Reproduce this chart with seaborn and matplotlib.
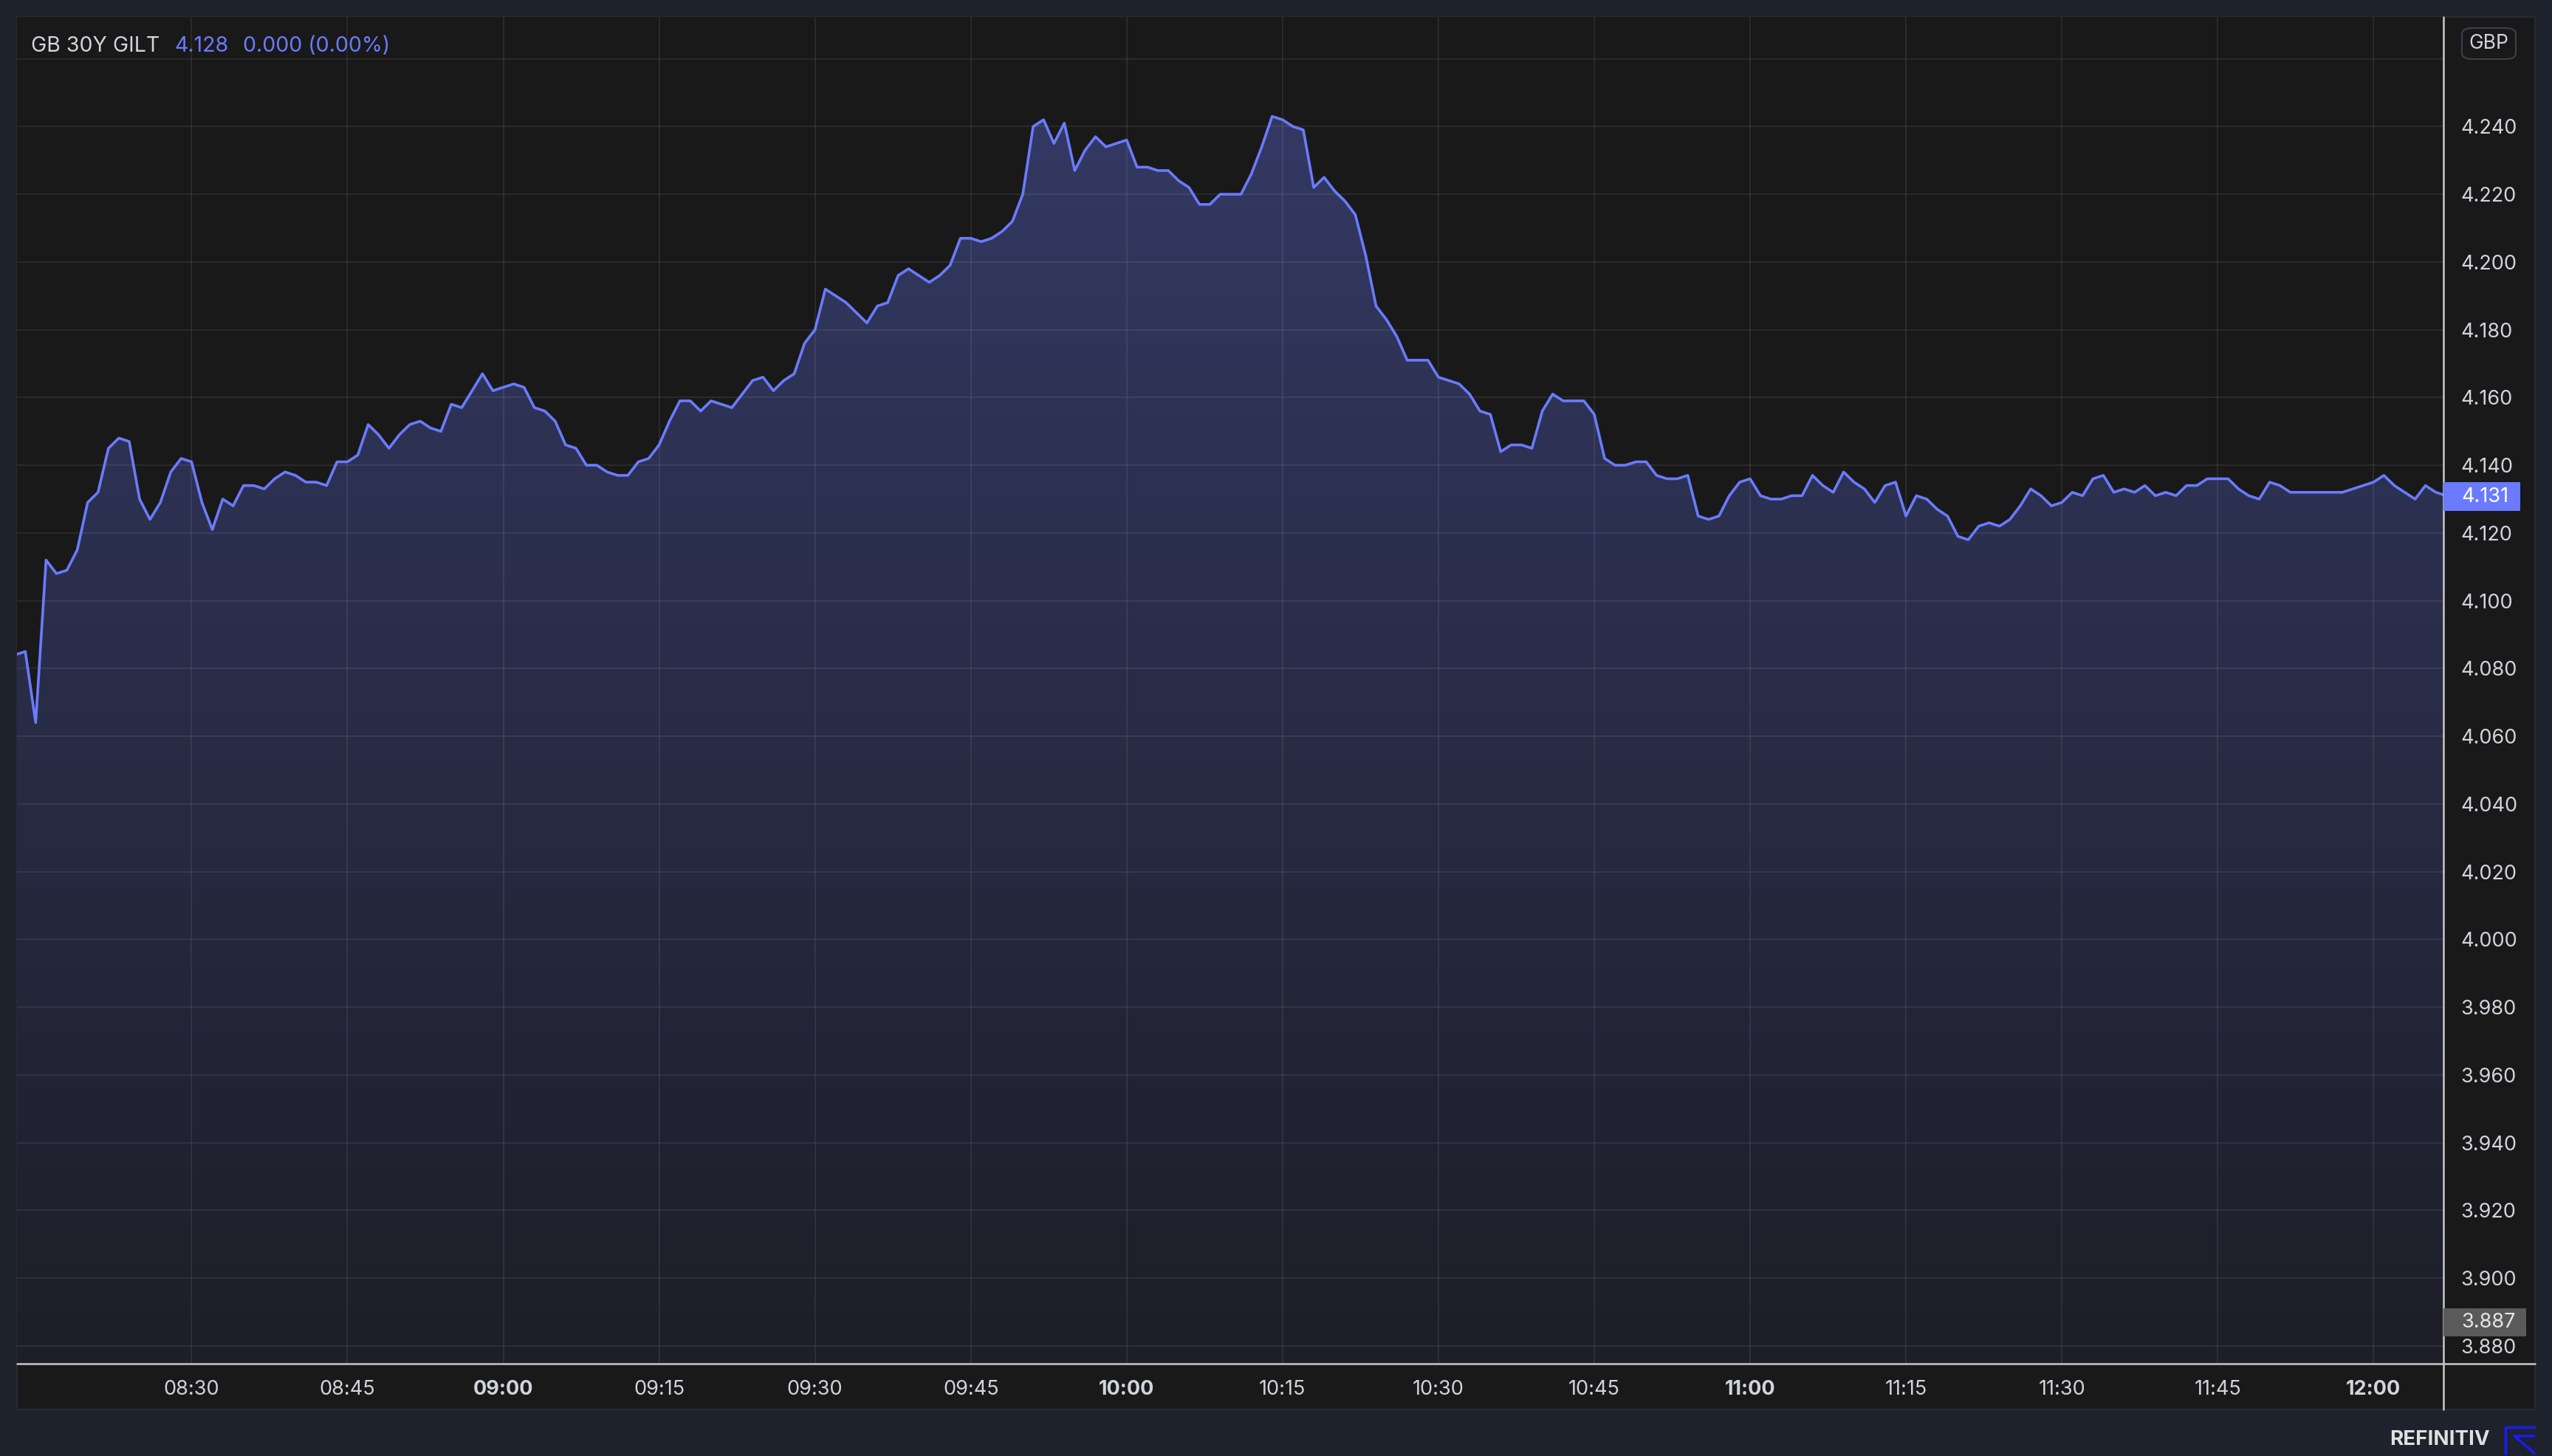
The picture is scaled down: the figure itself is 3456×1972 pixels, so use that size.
import numpy as np
import pandas as pd
import matplotlib
matplotlib.use("Agg")
import matplotlib.pyplot as plt
import matplotlib.dates as mdates
from matplotlib.patches import Rectangle, FancyBboxPatch
from matplotlib.lines import Line2D
from matplotlib.colors import LinearSegmentedColormap
import seaborn as sns

# GB 30Y gilt yield, one reading per minute starting 08:13
yld_0813_0859 = [4.084, 4.085, 4.064, 4.112, 4.108, 4.109, 4.115, 4.129, 4.132, 4.145,
                 4.148, 4.147, 4.130, 4.124, 4.129, 4.138, 4.142,
                 4.141, 4.129, 4.121, 4.130, 4.128, 4.134, 4.134, 4.133, 4.136, 4.138,
                 4.137, 4.135, 4.135, 4.134, 4.141, 4.141, 4.143, 4.152, 4.149, 4.145,
                 4.149, 4.152, 4.153, 4.151, 4.150, 4.158, 4.157, 4.162, 4.167, 4.162]
yld_0900_0959 = [4.163, 4.164, 4.163, 4.157, 4.156, 4.153, 4.146, 4.145, 4.140, 4.140,
                 4.138, 4.137, 4.137, 4.141, 4.142, 4.146, 4.153, 4.159, 4.159, 4.156,
                 4.159, 4.158, 4.157, 4.161, 4.165, 4.166, 4.162, 4.165, 4.167, 4.176,
                 4.180, 4.192, 4.190, 4.188, 4.185, 4.182, 4.187, 4.188, 4.196, 4.198,
                 4.196, 4.194, 4.196, 4.199, 4.207, 4.207, 4.206, 4.207, 4.209, 4.212,
                 4.220, 4.240, 4.242, 4.235, 4.241, 4.227, 4.233, 4.237, 4.234, 4.235]
yld_1000_1059 = [4.236, 4.228, 4.228, 4.227, 4.227, 4.224, 4.222, 4.217, 4.217, 4.220,
                 4.220, 4.220, 4.226, 4.234, 4.243, 4.242, 4.240, 4.239, 4.222, 4.225,
                 4.221, 4.218, 4.214, 4.202, 4.187, 4.183, 4.178, 4.171, 4.171, 4.171,
                 4.166, 4.165, 4.164, 4.161, 4.156, 4.155, 4.144, 4.146, 4.146, 4.145,
                 4.156, 4.161, 4.159, 4.159, 4.159, 4.155, 4.142, 4.140, 4.140, 4.141,
                 4.141, 4.137, 4.136, 4.136, 4.137, 4.125, 4.124, 4.125, 4.131, 4.135]
yld_1100_1159 = [4.136, 4.131, 4.130, 4.130, 4.131, 4.131, 4.137, 4.134, 4.132, 4.138,
                 4.135, 4.133, 4.129, 4.134, 4.135, 4.125, 4.131, 4.130, 4.127, 4.125,
                 4.119, 4.118, 4.122, 4.123, 4.122, 4.124, 4.128, 4.133, 4.131, 4.128,
                 4.129, 4.132, 4.131, 4.136, 4.137, 4.132, 4.133, 4.132, 4.134, 4.131,
                 4.132, 4.131, 4.134, 4.134, 4.136, 4.136, 4.136, 4.133, 4.131, 4.130,
                 4.135, 4.134, 4.132, 4.132, 4.132, 4.132, 4.132, 4.132, 4.133, 4.134]
yld_1200_1207 = [4.135, 4.137, 4.134, 4.132, 4.130, 4.134, 4.132, 4.131]

tick_times = ["08:30", "08:45", "09:00", "09:15", "09:30", "09:45", "10:00",
              "10:15", "10:30", "10:45", "11:00", "11:15", "11:30", "11:45", "12:00"]
y_ticks = [3.88, 3.90, 3.92, 3.94, 3.96, 3.98, 4.00, 4.02, 4.04, 4.06,
           4.08, 4.10, 4.12, 4.14, 4.16, 4.18, 4.20, 4.22, 4.24, 4.26]

day = "2023-10-02"
values = yld_0813_0859 + yld_0900_0959 + yld_1000_1059 + yld_1100_1159 + yld_1200_1207
df = pd.DataFrame({"time": pd.date_range(day + " 08:13", periods=len(values), freq="1min"),
                   "yield": values})

LINE = "#6a7bff"
TXT = "#d1d4dc"
BG = "#191919"

sns.set_theme(style="dark")
plt.rcParams['font.family'] = ['Inter', 'DejaVu Sans']

W, H = 3456, 1972
fig = plt.figure(figsize=(W / 100, H / 100), dpi=100)
fig.patch.set_facecolor("#1e222d")


def fx(px):
    return px / W


def fy(py):
    return 1 - py / H


fig.patches.append(Rectangle((fx(23), fy(1909)), fx(3433) - fx(23), fy(22.7) - fy(1909),
                             transform=fig.transFigure, facecolor=BG,
                             edgecolor="#2a2e39", lw=1.2, zorder=-1))

ax = fig.add_axes([fx(23), fy(1846.7), fx(3309) - fx(23), fy(22.7) - fy(1846.7)])
ax.set_facecolor(BG)
ax.set_axisbelow("line")

sns.lineplot(data=df, x="time", y="yield", color=LINE, lw=2.6, ax=ax, zorder=3)

t0 = pd.Timestamp(day + " 08:00")
x_lo = mdates.date2num(t0 + pd.Timedelta(minutes=13.2))
x_hi = mdates.date2num(t0 + pd.Timedelta(minutes=246.73))
y_lo, y_hi = 3.8748, 4.2724

# gradient area under the line
poly = ax.fill_between(df["time"], df["yield"], y_lo, facecolor="none", edgecolor="none")
cmap = LinearSegmentedColormap.from_list("area", ["#1d1e27", "#353b68"])
grad = np.linspace(1, 0, 256).reshape(-1, 1)
im = ax.imshow(grad, cmap=cmap, aspect="auto", extent=[x_lo, x_hi, y_lo, y_hi],
               origin="upper", zorder=1, interpolation="bicubic")
im.set_clip_path(poly.get_paths()[0], transform=ax.transData)

ax.set_xlim(x_lo, x_hi)
ax.set_ylim(y_lo, y_hi)

xt = [mdates.date2num(pd.Timestamp(day + " " + t)) for t in tick_times]
ax.set_xticks(xt)
ax.set_xticklabels(tick_times)
for lab in ax.get_xticklabels():
    if lab.get_text().endswith(":00"):
        lab.set_fontweight("bold")

ax.yaxis.tick_right()
ax.set_yticks(y_ticks)
ax.set_yticklabels([f"{v:.3f}" if v < 4.25 else "" for v in y_ticks])

ax.tick_params(axis="both", length=0, colors=TXT, labelsize=19.5)
ax.tick_params(axis="x", pad=16)
ax.tick_params(axis="y", pad=17)
ax.grid(True, color="white", alpha=0.075, lw=1.5)
for s in ax.spines.values():
    s.set_visible(False)
ax.set_xlabel("")
ax.set_ylabel("")

# panel separators
fig.lines.append(Line2D([fx(3309), fx(3309)], [fy(22.7), fy(1909)], transform=fig.transFigure,
                        color="#c8c8c8", lw=1.8, zorder=5))
fig.lines.append(Line2D([fx(23), fx(3433)], [fy(1846.7), fy(1846.7)], transform=fig.transFigure,
                        color="#c8c8c8", lw=1.8, zorder=5))

# header
fig.text(fx(42), fy(70), "GB 30Y GILT", color=TXT, fontsize=20.5, va="baseline")
fig.text(fx(236), fy(70), "4.128", color=LINE, fontsize=20.5, va="baseline")
fig.text(fx(329), fy(70), "0.000 (0.00%)", color=LINE, fontsize=20.5, va="baseline")

# currency box
fig.patches.append(FancyBboxPatch((fx(3334), fy(80)), fx(3407) - fx(3334), fy(38) - fy(80),
                                  boxstyle="round,pad=0,rounding_size=0.004",
                                  transform=fig.transFigure, facecolor="none",
                                  edgecolor="#3c404c", lw=1.5, zorder=6))
fig.text(fx(3370.5), fy(59), "GBP", color=TXT, fontsize=19, ha="center", va="center", zorder=7)

# last price and low tags
fig.patches.append(Rectangle((fx(3309), fy(692)), fx(3413) - fx(3309), fy(653) - fy(692),
                             transform=fig.transFigure, facecolor=LINE, edgecolor="none", zorder=6))
fig.text(fx(3333), fy(672.5), "4.131", color="white", fontsize=19.5, va="center", zorder=7)
fig.patches.append(Rectangle((fx(3309), fy(1810)), fx(3421) - fx(3309), fy(1772) - fy(1810),
                             transform=fig.transFigure, facecolor="#5a5a5a", edgecolor="none", zorder=6))
fig.text(fx(3333), fy(1791), "3.887", color="#e6e6e6", fontsize=19.5, va="center", zorder=7)

# footer logo
fig.text(fx(3372), fy(1950), "REFINITIV", color="#e0e0e0", fontsize=20, fontweight="bold",
         ha="right", va="center")
logo = "#1a1aff"
fig.lines.append(Line2D([fx(3432), fx(3393), fx(3393)], [fy(1933), fy(1933), fy(1969)],
                        transform=fig.transFigure, color=logo, lw=2.5))
fig.lines.append(Line2D([fx(3432), fx(3405), fx(3432)], [fy(1945), fy(1945), fy(1968)],
                        transform=fig.transFigure, color=logo, lw=2.5))

fig.savefig("out.png", dpi=100, facecolor=fig.get_facecolor())
